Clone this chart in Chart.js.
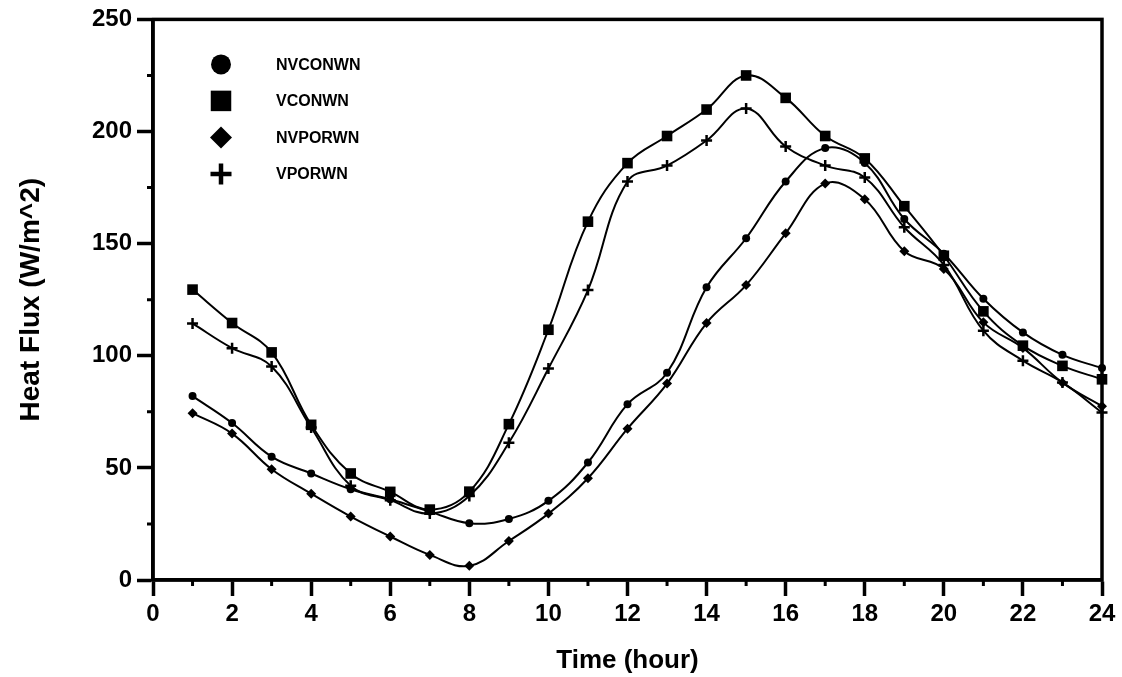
<!DOCTYPE html>
<html>
<head>
<meta charset="utf-8">
<script src="https://cdn.jsdelivr.net/npm/chart.js@4/dist/chart.umd.min.js"></script>
<style>
  html, body { margin: 0; padding: 0; background: #fff; }
  #wrap { width: 1122px; height: 677px; }
</style>
</head>
<body>
<div id="wrap"><canvas id="chart" width="1122" height="677"></canvas></div>
<script>
const hours = [1, 2, 3, 4, 5, 6, 7, 8, 9, 10, 11, 12, 13, 14, 15, 16, 17, 18, 19, 20, 21, 22, 23, 24];

const nvconwn = [82, 70, 55, 47.5, 40.5, 36, 30.5, 25.3, 27.2, 35.3, 52.4, 78.4, 92.4, 130.5, 152.4, 177.7, 192.6, 186, 161, 145.5, 125.4, 110.4, 100.4, 94.5];
const vconwn = [129.5, 114.6, 101.5, 69.2, 47.5, 39.3, 31.4, 39.4, 69.5, 111.6, 159.8, 185.9, 198, 209.8, 225, 215, 198, 188, 166.7, 144.6, 119.8, 104.5, 95.5, 89.5];
const nvporwn = [74.4, 65.3, 49.4, 38.5, 28.3, 19.4, 11.2, 6.3, 17.4, 29.6, 45.4, 67.5, 87.6, 114.6, 131.5, 154.6, 176.8, 169.8, 146.6, 138.7, 114.9, 103.5, 88, 77.5];
const vporwn = [114.4, 103.4, 95.2, 68, 42, 35.6, 29.6, 37.5, 61.2, 94.3, 129.3, 177.7, 184.8, 196, 210.3, 193.3, 184.8, 179.5, 157.3, 140.5, 111.2, 97.8, 88.1, 74.7];

const seriesNames = ['NVCONWN', 'VCONWN', 'NVPORWN', 'VPORWN'];
const xMinorTicks = [1, 3, 5, 7, 9, 11, 13, 15, 17, 19, 21, 23];
const yMinorTicks = [25, 75, 125, 175, 225];

const FONT = '"Liberation Sans", Arial, sans-serif';

const toPoints = (values) => hours.map((h, i) => ({ x: h, y: values[i] }));

const makeDataset = (label, values, pointStyle, radius, borderWidth) => ({
    label,
    data: toPoints(values),
    borderColor: '#000',
    backgroundColor: '#000',
    borderWidth: 2,
    pointStyle,
    pointRadius: radius,
    pointBorderWidth: borderWidth,
    pointBackgroundColor: '#000',
    pointBorderColor: '#000',
    tension: 0.4,
    clip: false,
    fill: false
});

// legend marker sizes (bigger than the plotted markers)
const legendMarks = [
    { pointStyle: 'circle', radius: 10, borderWidth: 0 },
    { pointStyle: 'rect', radius: 14.5, borderWidth: 0 },
    { pointStyle: 'rectRot', radius: 11, borderWidth: 0 },
    { pointStyle: 'cross', radius: 10.5, borderWidth: 4.5 }
];

const framePlugin = {
    id: 'frame',
    afterDraw(chart) {
        const { ctx, chartArea } = chart;
        const xs = chart.scales.x;
        const ys = chart.scales.y;
        ctx.save();
        ctx.strokeStyle = '#000';
        ctx.lineWidth = 3.5;
        ctx.strokeRect(chartArea.left, chartArea.top, chartArea.right - chartArea.left, chartArea.bottom - chartArea.top);

        // minor ticks
        ctx.lineWidth = 3;
        ctx.beginPath();
        xMinorTicks.forEach(v => {
            const px = xs.getPixelForValue(v);
            ctx.moveTo(px, chartArea.bottom);
            ctx.lineTo(px, chartArea.bottom + 6);
        });
        yMinorTicks.forEach(v => {
            const py = ys.getPixelForValue(v);
            ctx.moveTo(chartArea.left, py);
            ctx.lineTo(chartArea.left - 6, py);
        });
        ctx.stroke();

        // legend inside plot
        ctx.fillStyle = '#000';
        ctx.textBaseline = 'middle';
        ctx.textAlign = 'left';
        ctx.font = 'bold 16px ' + FONT;
        chart.data.datasets.forEach((ds, i) => {
            const cx = chartArea.left + 68;
            const cy = chartArea.top + 45 + i * 36.5;
            const m = legendMarks[i];
            ctx.lineWidth = m.borderWidth;
            Chart.helpers.drawPoint(ctx, { pointStyle: m.pointStyle, rotation: 0, radius: m.radius, borderWidth: m.borderWidth }, cx, cy);
            ctx.fillText(ds.label, chartArea.left + 123, cy + 1);
        });
        ctx.restore();
    }
};

new Chart(document.getElementById('chart'), {
    type: 'line',
    data: {
        datasets: [
            makeDataset(seriesNames[0], nvconwn, 'circle', 4, 0),
            makeDataset(seriesNames[1], vconwn, 'rect', 7.5, 0),
            makeDataset(seriesNames[2], nvporwn, 'rectRot', 5, 0),
            makeDataset(seriesNames[3], vporwn, 'cross', 5.5, 2.5)
        ]
    },
    options: {
        responsive: false,
        animation: false,
        devicePixelRatio: 1,
        layout: { padding: { top: 18, right: 20, left: 0, bottom: 0 } },
        plugins: {
            legend: { display: false },
            tooltip: { enabled: false }
        },
        scales: {
            x: {
                type: 'linear',
                min: 0,
                max: 24,
                afterFit: (scale) => { scale.height = 97; },
                ticks: {
                    stepSize: 2,
                    color: '#000',
                    padding: 4,
                    maxRotation: 0,
                    font: { family: FONT, size: 24, weight: 'bold' }
                },
                grid: { drawOnChartArea: false, drawTicks: true, tickLength: 16, tickWidth: 3.5, tickColor: '#000' },
                border: { display: true, color: '#000', width: 3.5 },
                title: {
                    display: true,
                    text: 'Time (hour)',
                    color: '#000',
                    padding: { top: 0, bottom: 1 },
                    font: { family: FONT, size: 26, weight: 'bold' }
                }
            },
            y: {
                min: 0,
                max: 250,
                afterFit: (scale) => { scale.width = 153; },
                ticks: {
                    stepSize: 50,
                    color: '#000',
                    padding: 5,
                    font: { family: FONT, size: 24, weight: 'bold' }
                },
                grid: { drawOnChartArea: false, drawTicks: true, tickLength: 16, tickWidth: 3.5, tickColor: '#000' },
                border: { display: true, color: '#000', width: 3.5 },
                title: {
                    display: true,
                    text: 'Heat Flux (W/m^2)',
                    color: '#000',
                    padding: { top: 14, bottom: 0 },
                    font: { family: FONT, size: 28, weight: 'bold' }
                }
            }
        }
    },
    plugins: [framePlugin]
});
</script>
</body>
</html>
